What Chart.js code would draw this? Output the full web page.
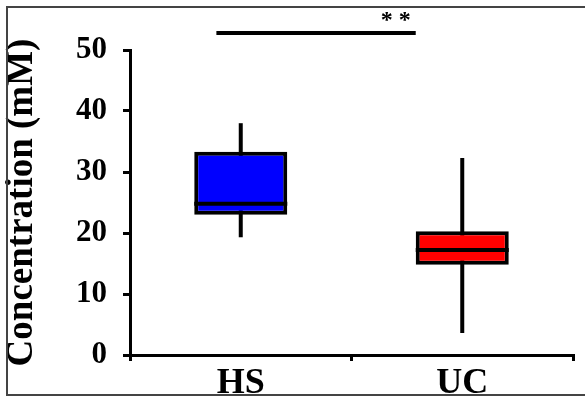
<!DOCTYPE html>
<html>
<head>
<meta charset="utf-8">
<script src="https://cdn.jsdelivr.net/npm/chart.js@4.4.1/dist/chart.umd.min.js"></script>
<style>
  html, body { margin: 0; padding: 0; background: #fff; overflow: hidden; }
  canvas { display: block; }
</style>
</head>
<body>
<canvas id="boxChart" width="585" height="397"></canvas>
<script>
// Box plot values (mM)
const categories = ['HS', 'UC'];
const whiskerMin = [19.3, 3.6];
const q1Values = [23.0, 14.8];
const medianValues = [24.8, 17.2];
const q3Values = [33.3, 20.3];
const whiskerMax = [38.0, 32.3];
const boxColors = ['#0000ff', '#ff0000'];
const yTicks = [0, 10, 20, 30, 40, 50];
const sigLabel = '* *';

const serif = "'Liberation Serif', 'Times New Roman', serif";

/**
 * Draws whiskers behind the boxes, medians and the significance bar on top
 */
const boxPlotPlugin = {
    id: 'boxPlot',
    beforeDatasetsDraw(chart) {
        const { ctx, scales: { x, y } } = chart;
        ctx.save();
        ctx.strokeStyle = '#000';
        ctx.lineWidth = 4;
        categories.forEach((cat, i) => {
            const cx = x.getPixelForValue(i);
            ctx.beginPath();
            ctx.moveTo(cx, y.getPixelForValue(whiskerMin[i]));
            ctx.lineTo(cx, y.getPixelForValue(whiskerMax[i]));
            ctx.stroke();
        });
        ctx.restore();
    },
    afterDatasetsDraw(chart) {
        const { ctx, scales: { x, y } } = chart;
        const meta = chart.getDatasetMeta(0);
        ctx.save();
        ctx.strokeStyle = '#000';
        ctx.lineWidth = 4;
        meta.data.forEach((bar, i) => {
            const half = bar.width / 2;
            const my = y.getPixelForValue(medianValues[i]);
            ctx.beginPath();
            ctx.moveTo(bar.x - half, my);
            ctx.lineTo(bar.x + half, my);
            ctx.stroke();
        });

        // significance bar between the groups
        const sy = y.getPixelForValue(52.8);
        ctx.beginPath();
        ctx.moveTo(x.getPixelForValue(-0.11), sy);
        ctx.lineTo(x.getPixelForValue(0.79), sy);
        ctx.stroke();

        ctx.fillStyle = '#000';
        ctx.font = 'bold 24px ' + serif;
        ctx.textAlign = 'center';
        ctx.textBaseline = 'middle';
        ctx.fillText(sigLabel, x.getPixelForValue(0.70), y.getPixelForValue(54.8));
        ctx.restore();
    },
    afterDraw(chart) {
        // picture frame: top, left and bottom edges
        const { ctx, width, height } = chart;
        ctx.save();
        ctx.strokeStyle = '#444';
        ctx.lineWidth = 2;
        ctx.beginPath();
        ctx.moveTo(width, 7);
        ctx.lineTo(7, 7);
        ctx.lineTo(7, height - 2);
        ctx.lineTo(width, height - 2);
        ctx.stroke();
        ctx.restore();
    }
};

const ctx = document.getElementById('boxChart').getContext('2d');

new Chart(ctx, {
    type: 'bar',
    data: {
        labels: categories,
        datasets: [{
            label: 'IQR',
            data: categories.map((c, i) => [q1Values[i], q3Values[i]]),
            backgroundColor: boxColors,
            borderColor: '#000',
            borderWidth: 4,
            borderSkipped: false,
            barPercentage: 0.42,
            categoryPercentage: 1
        }]
    },
    options: {
        responsive: false,
        animation: false,
        layout: {
            padding: { top: 50, right: 12, left: 0, bottom: 0 }
        },
        plugins: {
            legend: { display: false },
            tooltip: { enabled: false }
        },
        scales: {
            x: {
                type: 'category',
                offset: true,
                grid: {
                    offset: true,
                    drawOnChartArea: false,
                    drawTicks: true,
                    tickLength: 6,
                    lineWidth: 3,
                    color: '#000'
                },
                border: { color: '#000', width: 3 },
                ticks: {
                    color: '#000',
                    padding: 1,
                    font: { family: serif, size: 36, weight: 'bold' }
                },
                afterFit: scale => { scale.height = 42; }
            },
            y: {
                min: 0,
                max: 50,
                afterBuildTicks: scale => {
                    scale.ticks = yTicks.map(v => ({ value: v }));
                },
                grid: {
                    drawOnChartArea: false,
                    drawTicks: true,
                    tickLength: 7,
                    lineWidth: 3,
                    color: '#000'
                },
                border: { color: '#000', width: 3 },
                ticks: {
                    color: '#000',
                    padding: 16,
                    font: { family: serif, size: 31, weight: 'bold' }
                },
                title: {
                    display: true,
                    text: 'Concentration (mM)',
                    color: '#000',
                    padding: { top: 0, bottom: 0 },
                    font: { family: serif, size: 37, weight: 'bold' }
                },
                afterFit: scale => { scale.width = 130; }
            }
        }
    },
    plugins: [boxPlotPlugin]
});
</script>
</body>
</html>
